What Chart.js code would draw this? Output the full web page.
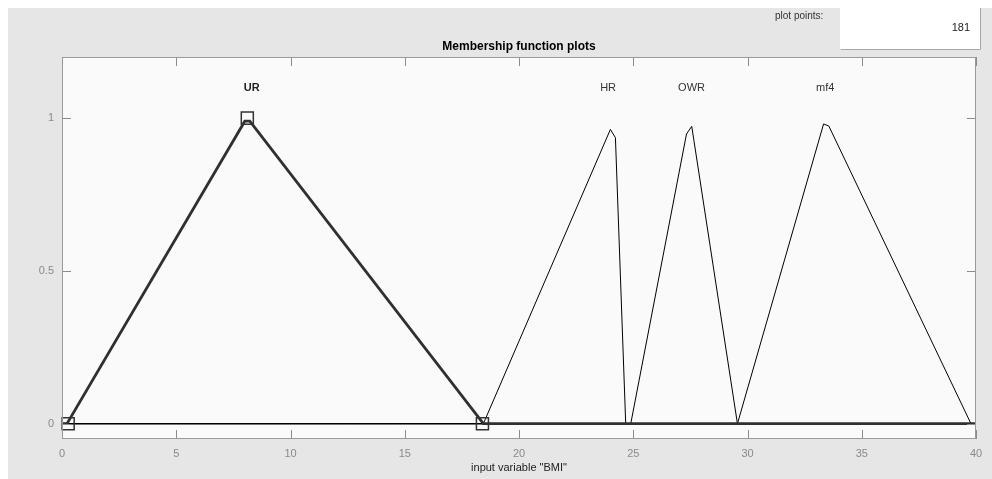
<!DOCTYPE html>
<html>
<head>
<meta charset="utf-8">
<title>Membership function plots</title>
<script src="https://cdn.jsdelivr.net/npm/chart.js@4.4.0/dist/chart.umd.min.js"></script>
<style>
  html, body { margin: 0; padding: 0; background: #fff; }
  canvas { display: block; }
</style>
</head>
<body>
<canvas id="mfChart" width="992" height="479"></canvas>
<script>
// valores (181 puntos de muestreo en [0, 40])
const xTicks = [0, 5, 10, 15, 20, 25, 30, 35, 40];
const yTicks = [0, 0.5, 1];

const urX = [0, 0.22, 8.0, 8.22, 18.44, 40];
const urY = [0, 0, 0.99, 0.99, 0, 0];
const hrX = [0, 18.44, 24.0, 24.22, 24.67, 40];
const hrY = [0, 0, 0.963, 0.936, 0, 0];
const owrX = [0, 24.89, 27.33, 27.56, 29.56, 40];
const owrY = [0, 0, 0.948, 0.973, 0, 0];
const mf4X = [0, 29.56, 33.33, 33.56, 39.78, 40];
const mf4Y = [0, 0, 0.981, 0.974, 0, 0];

// parametros de la funcion seleccionada (cuadrados)
const urParamX = [0.27, 8.11, 18.4];
const urParamY = [0, 1, 0];

const mfNames = ['UR', 'HR', 'OWR', 'mf4'];
const mfLabelX = [8.3, 23.9, 27.55, 33.4];
const mfLabelY = 1.1;

const plotPoints = '181';
const FONT = "'Liberation Sans', Arial, Helvetica, sans-serif";

const toPts = (xs, ys) => xs.map((x, i) => ({ x: x, y: ys[i] }));

// fondo de la ventana, cuadro "plot points" y area del grafico
const fondo = {
  id: 'fondo',
  beforeDraw(chart) {
    const ctx = chart.ctx;
    const a = chart.chartArea;
    ctx.save();
    ctx.fillStyle = '#ffffff';
    ctx.fillRect(0, 0, chart.width, chart.height);
    ctx.fillStyle = '#e6e6e6';
    ctx.fillRect(8, 8, chart.width - 8, chart.height - 8);

    ctx.fillStyle = '#ffffff';
    ctx.fillRect(840, 8, 141, 42);
    ctx.strokeStyle = '#a8a8a8';
    ctx.lineWidth = 1;
    ctx.beginPath();
    ctx.moveTo(840.5, 49.5); ctx.lineTo(980.5, 49.5); ctx.lineTo(980.5, 8);
    ctx.stroke();

    ctx.fillStyle = '#333333';
    ctx.font = '10px ' + FONT;
    ctx.textAlign = 'left';
    ctx.textBaseline = 'middle';
    ctx.fillText('plot points:', 775, 16);
    ctx.font = '11px ' + FONT;
    ctx.textAlign = 'right';
    ctx.fillStyle = '#222222';
    ctx.fillText(plotPoints, 970, 28);

    ctx.fillStyle = '#000000';
    ctx.font = 'bold 12px ' + FONT;
    ctx.textAlign = 'center';
    ctx.fillText('Membership function plots', (a.left + a.right) / 2, 47);

    ctx.fillStyle = '#fafafa';
    ctx.fillRect(a.left, a.top, a.right - a.left, a.bottom - a.top);
    ctx.restore();
  }
};

// borde, marcas hacia dentro y nombres de las funciones
const marco = {
  id: 'marco',
  afterDraw(chart) {
    const ctx = chart.ctx;
    const a = chart.chartArea;
    const xs = chart.scales.x;
    const ys = chart.scales.y;
    const L = 9;
    ctx.save();
    ctx.lineWidth = 1;
    ctx.strokeStyle = '#8c8c8c';
    ctx.beginPath();
    xTicks.forEach((t) => {
      const px = Math.round(xs.getPixelForValue(t)) + 0.5;
      ctx.moveTo(px, a.bottom); ctx.lineTo(px, a.bottom - L);
      ctx.moveTo(px, a.top); ctx.lineTo(px, a.top + L);
    });
    yTicks.forEach((t) => {
      const py = Math.round(ys.getPixelForValue(t)) + 0.5;
      ctx.moveTo(a.left, py); ctx.lineTo(a.left + L, py);
      ctx.moveTo(a.right, py); ctx.lineTo(a.right - L, py);
    });
    ctx.stroke();
    ctx.strokeStyle = '#9a9a9a';
    ctx.strokeRect(a.left + 0.5, a.top + 0.5, a.right - a.left - 1, a.bottom - a.top - 1);

    ctx.textAlign = 'center';
    ctx.textBaseline = 'middle';
    mfNames.forEach((n, i) => {
      ctx.font = (i === 0 ? 'bold ' : '') + '11px ' + FONT;
      ctx.fillStyle = i === 0 ? '#222222' : '#333333';
      ctx.fillText(n, xs.getPixelForValue(mfLabelX[i]), ys.getPixelForValue(mfLabelY));
    });
    ctx.restore();
  }
};

const lineaFina = (pts) => ({
  data: pts,
  borderColor: '#000000',
  borderWidth: 1,
  pointRadius: 0,
  tension: 0,
  fill: false
});

new Chart(document.getElementById('mfChart'), {
  type: 'line',
  data: {
    datasets: [
      {
        data: toPts(urParamX, urParamY),
        showLine: false,
        pointStyle: 'rect',
        pointRadius: 8.5,
        pointBackgroundColor: 'rgba(0,0,0,0)',
        pointBorderColor: '#333333',
        pointBorderWidth: 1.5,
        clip: false
      },
      {
        data: toPts(urX, urY),
        borderColor: '#303030',
        borderWidth: 2.8,
        pointRadius: 0,
        tension: 0,
        fill: false
      },
      lineaFina(toPts(hrX, hrY)),
      lineaFina(toPts(owrX, owrY)),
      lineaFina(toPts(mf4X, mf4Y))
    ]
  },
  options: {
    responsive: false,
    animation: false,
    devicePixelRatio: 1,
    layout: { padding: { top: 57, right: 16, left: 0, bottom: 0 } },
    plugins: {
      legend: { display: false },
      tooltip: { enabled: false }
    },
    scales: {
      x: {
        type: 'linear',
        min: 0,
        max: 40,
        afterBuildTicks: (s) => { s.ticks = xTicks.map((v) => ({ value: v })); },
        afterFit: (s) => { s.height = 40; },
        grid: { display: false, drawTicks: false, tickLength: 0 },
        border: { display: false },
        ticks: {
          padding: 8,
          color: '#8a8a8a',
          font: { family: FONT, size: 11 },
          maxRotation: 0,
          autoSkip: false
        },
        title: {
          display: true,
          text: 'input variable "BMI"',
          color: '#222222',
          font: { family: FONT, size: 11 },
          padding: { top: 0, bottom: 4 }
        }
      },
      y: {
        type: 'linear',
        min: -0.05,
        max: 1.2,
        afterBuildTicks: (s) => { s.ticks = yTicks.map((v) => ({ value: v })); },
        afterFit: (s) => { s.width = 62; },
        grid: { display: false, drawTicks: false, tickLength: 0 },
        border: { display: false },
        ticks: {
          padding: 8,
          color: '#8a8a8a',
          font: { family: FONT, size: 11 },
          callback: (v) => String(v)
        }
      }
    }
  },
  plugins: [fondo, marco]
});
</script>
</body>
</html>
